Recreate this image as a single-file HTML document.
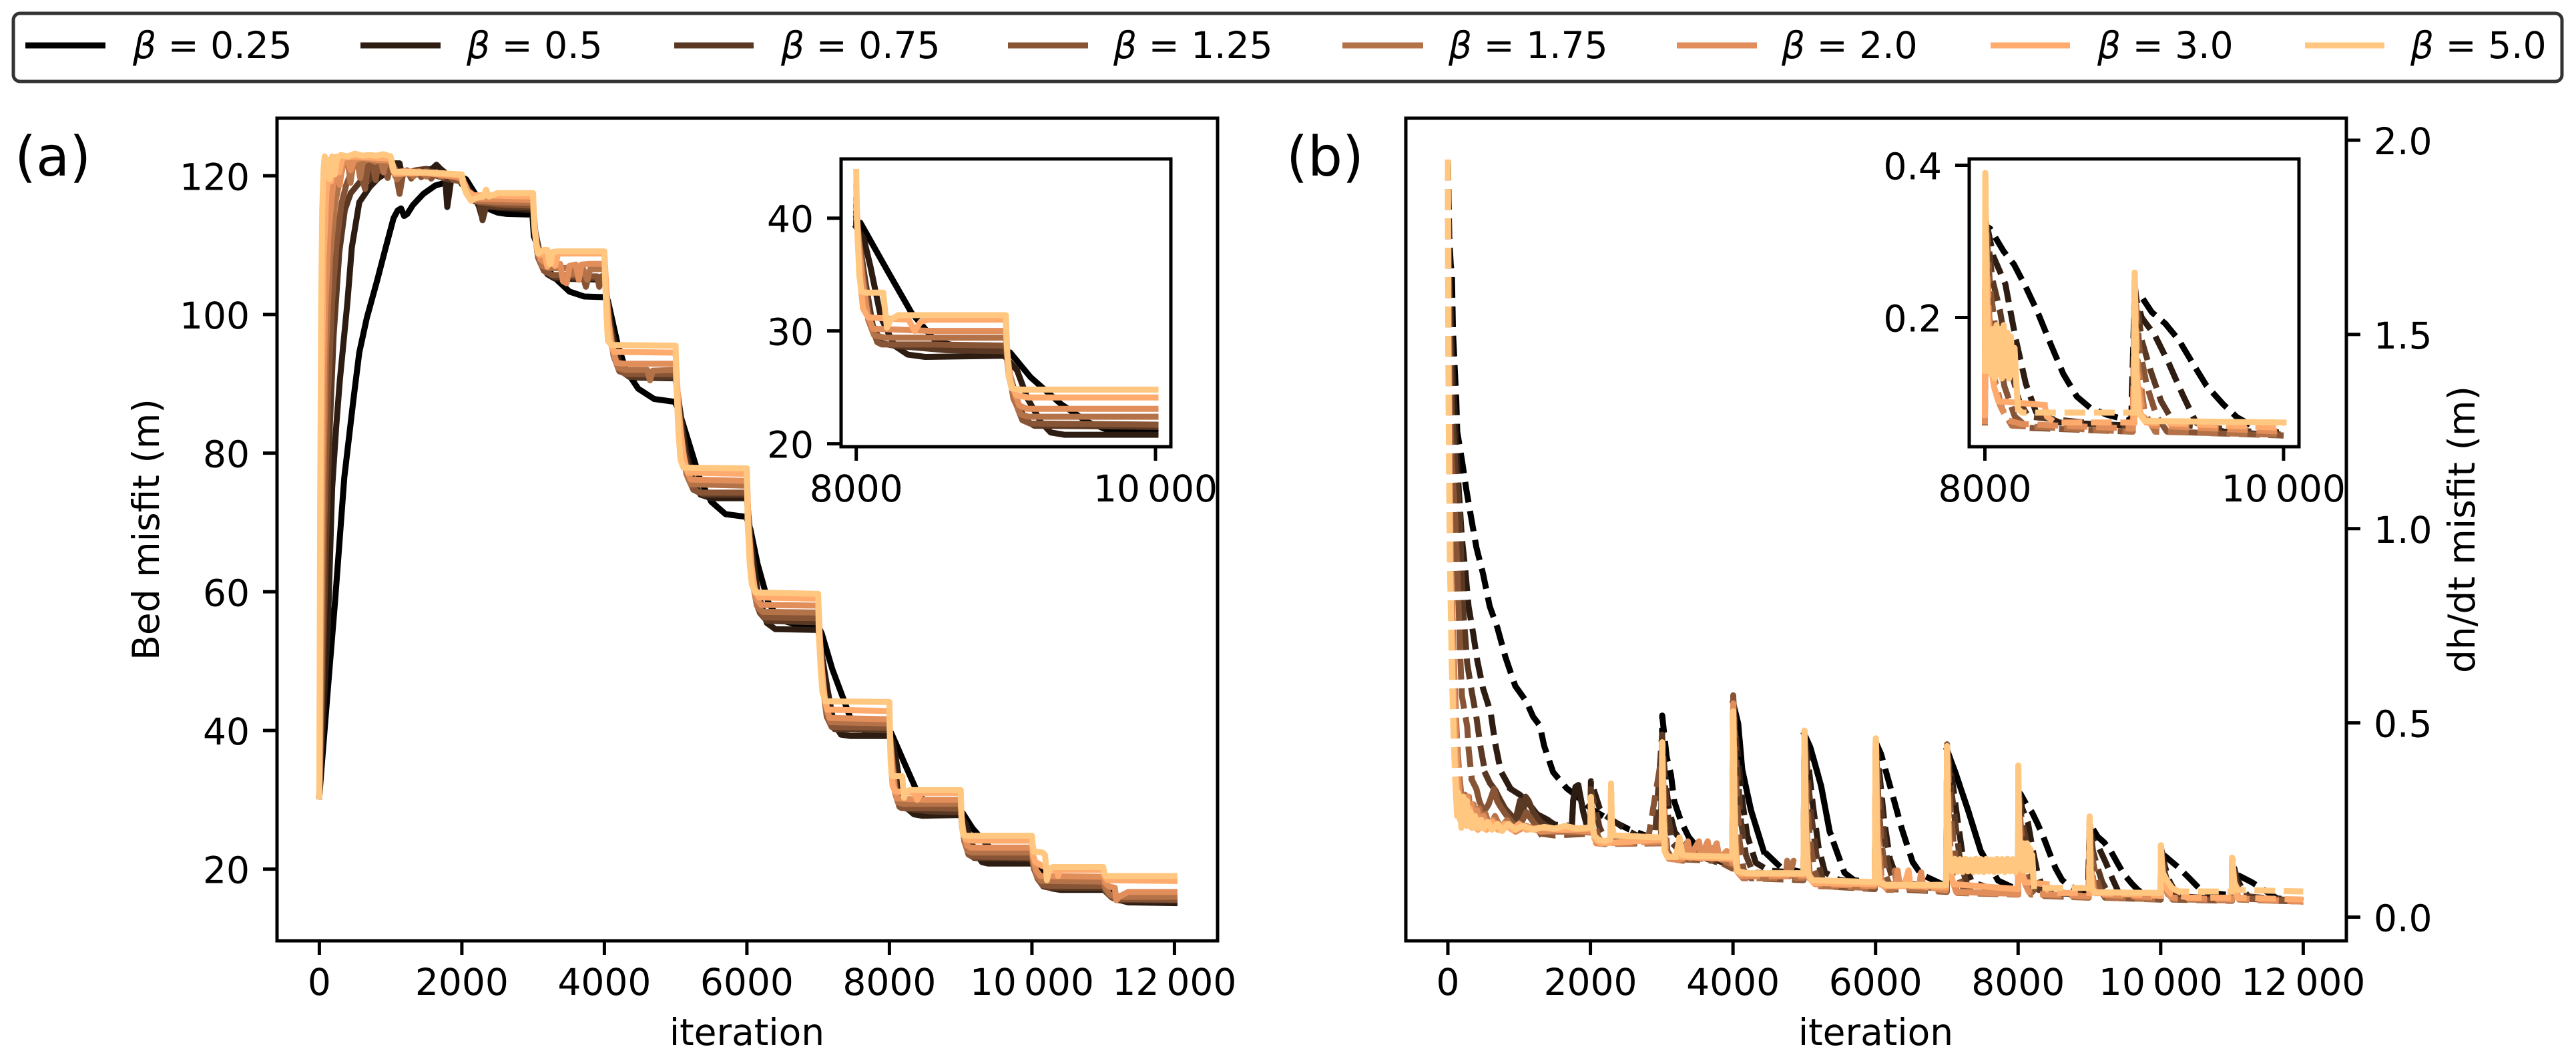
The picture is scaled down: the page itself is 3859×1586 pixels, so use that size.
<!DOCTYPE html>
<html lang="en">
<head>
<meta charset="utf-8">
<title>Bed misfit and dh/dt misfit vs iteration</title>
<style>
html,body{margin:0;padding:0;background:#fff;}
body{width:3859px;height:1586px;overflow:hidden;}
svg{display:block;}
text{font-family:"DejaVu Sans","Liberation Sans",sans-serif;fill:#000;font-size:55px;}
.panel-tag{font-size:82px;}
</style>
</head>
<body>
<svg id="fig" xmlns="http://www.w3.org/2000/svg" width="3859" height="1586" viewBox="0 0 3859 1586">
<rect x="0" y="0" width="3859" height="1586" fill="#fff"/>
<defs>
<clipPath id="clip-a"><rect x="415" y="177" width="1409" height="1232"/></clipPath>
<clipPath id="clip-b"><rect x="2106" y="177" width="1409" height="1232"/></clipPath>
<clipPath id="clip-ia"><rect x="1260" y="238" width="494" height="431"/></clipPath>
<clipPath id="clip-ib"><rect x="2950" y="238" width="494" height="431"/></clipPath>
</defs>
<g id="panels"></g>
<g>
<rect x="20" y="20" width="3818" height="102" rx="10" ry="10" fill="#fff" stroke="#333" stroke-width="5"/>
<g><line x1="38" x2="158" y1="68" y2="68" stroke="#000000" stroke-width="9"/><text x="199" y="87"><tspan font-style="italic">β</tspan> = 0.25</text></g>
<g><line x1="540" x2="660" y1="68" y2="68" stroke="#2d1c12" stroke-width="9"/><text x="699" y="87"><tspan font-style="italic">β</tspan> = 0.5</text></g>
<g><line x1="1010" x2="1129" y1="68" y2="68" stroke="#5a3924" stroke-width="9"/><text x="1170" y="87"><tspan font-style="italic">β</tspan> = 0.75</text></g>
<g><line x1="1510" x2="1630" y1="68" y2="68" stroke="#875536" stroke-width="9"/><text x="1668" y="87"><tspan font-style="italic">β</tspan> = 1.25</text></g>
<g><line x1="2011" x2="2132" y1="68" y2="68" stroke="#b47248" stroke-width="9"/><text x="2170" y="87"><tspan font-style="italic">β</tspan> = 1.75</text></g>
<g><line x1="2512" x2="2632" y1="68" y2="68" stroke="#e18e5b" stroke-width="9"/><text x="2669" y="87"><tspan font-style="italic">β</tspan> = 2.0</text></g>
<g><line x1="2982" x2="3101" y1="68" y2="68" stroke="#ffab6d" stroke-width="9"/><text x="3142" y="87"><tspan font-style="italic">β</tspan> = 3.0</text></g>
<g><line x1="3453" x2="3572" y1="68" y2="68" stroke="#ffc77f" stroke-width="9"/><text x="3611" y="87"><tspan font-style="italic">β</tspan> = 5.0</text></g>
</g>
<text class="panel-tag" x="22" y="263">(a)</text>
<text class="panel-tag" x="1927" y="263">(b)</text>
<text x="1119" y="1565" text-anchor="middle">iteration</text>
<text x="2810" y="1565" text-anchor="middle">iteration</text>
<text transform="translate(238 793) rotate(-90)" text-anchor="middle">Bed misfit (m)</text>
<text transform="translate(3707 793) rotate(-90)" text-anchor="middle">dh/dt misfit (m)</text>
</svg>
<script>
/* ---------- tick labels ---------- */
const xTicksMain = [0,2000,4000,6000,8000,10000,12000];
const xTickLabelsMain = ["0","2000","4000","6000","8000","10\u2009000","12\u2009000"];
const xTicksInset = [8000,10000];
const xTickLabelsInset = ["8000","10\u2009000"];
const bedTicks = [20,40,60,80,100,120];
const bedInsetTicks = [20,30,40];
const dhTicks = [0,0.5,1,1.5,2];
const dhTickLabels = ["0.0","0.5","1.0","1.5","2.0"];
const dhInsetTicks = [0.2,0.4];
const dhInsetTickLabels = ["0.2","0.4"];
const betas = ["0.25","0.5","0.75","1.25","1.75","2.0","3.0","5.0"];

/* ---------- panel (a): bed misfit, [iteration, metres] ---------- */
const bedB025 = [[0,30.5],[50,37],[120,46],[221,58.7],[350,76.5],[477,87.6],[560,94.5],[666,99.5],[811,104.9],[917,109.1],[1042,113.9],[1100,115],[1147,115.3],[1190,114.2],[1234,114.5],[1314,115.8],[1460,117.4],[1627,118.6],[1732,118.9],[1850,119.4],[2000,119.8],[2060,119.5],[2170,117.7],[2280,116],[2380,115.2],[2500,114.7],[2630,114.5],[2990,114.4],[3000,112.9],[3010,111.3],[3100,108.8],[3230,106.2],[3343,104.9],[3510,103.3],[3715,102.6],[4000,102.5],[4050,102],[4180,96],[4300,92],[4475,89.3],[4700,87.8],[4990,87.4],[5050,86],[5200,81],[5350,76],[5500,73],[5700,71.2],[5990,70.8],[6050,69],[6150,64],[6300,58.5],[6450,56],[6650,55.4],[6990,55.2],[7050,54],[7200,48.8],[7360,44.4],[7480,41],[7690,39.7],[8000,39.6],[8027,39.6],[8210,35.3],[8370,31.6],[8530,29.1],[8660,28.7],[8983,28.1],[9028,28.1],[9165,25.9],[9370,23.5],[9550,21.9],[9687,21.2],[10000,21.2],[10050,21],[10150,19.8],[10300,18.4],[10500,17.4],[10700,17.1],[11000,17],[11100,16.6],[11300,15.7],[11500,15.3],[12000,15.2]];
const bedB050 = [[0,30.5],[60,43],[120,55],[180,75],[238,84],[288,90.5],[393,101.7],[456,109.7],[561,116.2],[708,118.4],[830,119.7],[958,120.5],[1064,121.8],[1126,121.8],[1150,120.6],[1300,120.5],[1450,120.8],[1580,121],[1644,121.6],[1700,121],[1760,120.5],[1795,115.5],[1830,118],[1850,119.5],[1960,119.6],[2000,118.8],[2060,118.6],[2170,117],[2240,115.6],[2272,114.4],[2300,115.3],[2350,116],[2500,115.4],[3000,115],[3020,112],[3100,108],[3200,105.8],[3300,105.2],[4000,105],[4030,103],[4100,98],[4200,93.5],[4300,91.5],[4450,90.9],[5000,90.8],[5050,87],[5150,80],[5250,76],[5350,74],[5500,73.5],[6000,73.5],[6050,68],[6150,60],[6280,55.5],[6400,54.6],[7000,54.5],[7050,51],[7130,46],[7220,41],[7320,39.4],[7450,39.2],[8000,39.2],[8050,38.2],[8095,35.7],[8165,31.2],[8255,28.7],[8345,27.9],[8460,27.7],[8990,27.8],[9075,26.5],[9145,24],[9235,21.9],[9300,21],[9390,20.8],[10000,20.8],[10060,20],[10150,18.4],[10280,17.2],[10400,17],[11000,17],[11080,16.5],[11200,15.6],[11350,15.2],[12000,15.1]];
const bedB075 = [[0,30.5],[40,45],[90,65],[140,82],[200,97],[280,109],[358,115.1],[440,117.5],[560,119],[640,120],[700,119.4],[760,121.4],[820,120.6],[900,122],[960,121],[1020,122],[1060,120.5],[1100,119.5],[1200,120.3],[1350,120.8],[1500,121],[1650,120],[1800,119.5],[1950,119.3],[2000,119],[2050,118.8],[2150,116.5],[2250,116],[2290,113.6],[2340,115.6],[2500,115.5],[3000,115.4],[3030,112],[3100,108.5],[3180,106.3],[3300,105.4],[4000,105.2],[4030,103],[4080,98.5],[4150,94],[4240,91.8],[4350,91],[5000,91],[5040,87],[5120,80.5],[5200,76.5],[5290,74.5],[5400,74],[6000,74],[6040,68],[6100,61],[6180,57],[6280,55.8],[7000,55.6],[7030,51],[7080,46],[7140,42],[7230,40.2],[8000,40],[8020,38],[8060,34.5],[8110,30.5],[8170,28.9],[8250,28.7],[8600,28.3],[9000,28.2],[9030,26],[9075,23.8],[9130,22.1],[9190,21.6],[10000,21.5],[10030,20],[10090,18.5],[10160,17.5],[10250,17.3],[11000,17.3],[11040,16.7],[11120,15.9],[11220,15.5],[12000,15.5]];
const bedB125 = [[0,30.5],[30,45],[70,70],[120,88],[180,102],[240,110],[310,116],[380,118.8],[440,120.3],[480,121.8],[520,122],[580,120.5],[641,118.1],[680,121.5],[740,122],[790,119.4],[830,122],[900,122.2],[958,119.7],[1000,122],[1040,121.5],[1080,120],[1126,117.4],[1170,120],[1230,120.8],[1290,119.6],[1350,120.8],[1430,119.8],[1500,120.7],[1570,119.6],[1650,120.5],[1730,119.7],[1800,120.2],[1880,119.4],[2000,119.2],[2050,118.5],[2120,116.8],[2250,116.2],[2500,115.9],[3000,115.7],[3020,112],[3070,108.2],[3150,106.3],[3260,105.7],[3700,105.6],[3740,104],[3780,105.5],[3900,105.5],[3928,104],[3960,105.5],[4000,105.6],[4025,103],[4070,98],[4130,94],[4210,91.8],[4320,91.4],[5000,91.4],[5035,87],[5100,80.5],[5170,76.5],[5250,74.7],[5350,74.3],[6000,74.3],[6035,68],[6090,61],[6160,57.5],[6250,56.3],[7000,56.2],[7030,51],[7070,46],[7120,42],[7190,40.5],[8000,40.4],[8020,38],[8050,34.5],[8090,31],[8140,29],[8170,28.8],[8500,28.8],[9000,28.7],[9020,26],[9060,23.8],[9110,22.1],[9160,21.8],[10000,21.7],[10025,20.3],[10080,18.6],[10150,17.7],[10230,17.6],[11000,17.6],[11040,16.9],[11110,16],[11200,15.7],[12000,15.6]];
const bedB175 = [[0,30.5],[25,50],[55,75],[95,95],[150,108],[220,116],[290,119.5],[340,121.8],[400,122.2],[437,119],[480,122],[530,122.3],[573,119.7],[610,122],[700,122.4],[780,122],[860,122.3],[900,120.5],[940,122.3],[1000,122],[1040,120.5],[1090,119.5],[1150,120.2],[1250,120.6],[1320,119.9],[1400,120.7],[1500,119.9],[1600,120.5],[1700,119.9],[1800,120.2],[2000,119.5],[2040,118.8],[2100,117.2],[2200,116.4],[2500,116.2],[3000,116.1],[3020,112.5],[3060,109],[3130,107],[3220,106.7],[3500,106.7],[3550,105.8],[3600,106.6],[3700,106.6],[3760,105],[3800,106.5],[4000,106.6],[4025,104],[4060,99],[4120,95],[4190,92.3],[4290,92],[4600,92],[4640,90.5],[4680,91.9],[5000,92],[5030,88],[5090,81],[5150,77],[5220,75.5],[6000,75.3],[6030,68],[6080,61.5],[6140,58],[6220,57.1],[7000,57],[7025,52],[7065,47],[7110,43],[7170,41.2],[8000,41],[8015,38],[8045,34.5],[8080,31],[8120,29.6],[8200,29.4],[9000,29.4],[9020,26.5],[9050,24],[9100,22.6],[9150,22.4],[10000,22.4],[10020,20.8],[10070,19],[10130,18.3],[11000,18.2],[11030,17.3],[11090,16.4],[11170,16],[12000,16]];
const bedB200 = [[0,30.5],[20,55],[45,80],[80,100],[130,112],[190,118.5],[240,121.5],[287,118.7],[330,122],[390,122.3],[440,120.8],[490,122.3],[600,122.6],[800,122.3],[1000,122.2],[1030,121],[1070,120.5],[1200,120.7],[1500,120.4],[2000,119.7],[2030,119],[2090,117.6],[2180,116.7],[3000,116.5],[3015,113],[3050,109.6],[3100,108],[3180,107.4],[3380,107.3],[3420,104.8],[3470,104.5],[3510,107],[3600,107.2],[3640,105],[3680,107.2],[3800,107.3],[4000,107.3],[4020,105],[4050,100],[4100,95.5],[4170,93],[4300,92.9],[5000,92.9],[5025,88],[5080,82],[5140,78],[5210,76.2],[6000,76],[6025,69],[6070,62.5],[6130,59],[6200,58.1],[7000,58],[7025,53],[7060,48],[7100,44],[7160,41.8],[8000,41.6],[8015,38],[8040,34.5],[8075,31.5],[8110,30.2],[8500,30],[9000,30],[9015,27],[9045,25],[9090,23.4],[9140,23.1],[10000,23.1],[10020,21.5],[10060,19.8],[10120,19],[11000,18.9],[11030,18],[11080,17.5],[11163,17.3],[11185,15.5],[11220,16],[11350,16.7],[12000,16.7]];
const bedB300 = [[0,30.5],[15,60],[35,90],[60,108],[100,118],[135,121.5],[165,119.2],[200,122.5],[240,122.7],[280,120.5],[320,122.6],[500,122.8],[800,122.6],[1000,122.5],[1030,121],[1060,120.3],[1500,120.4],[2000,120],[2030,119],[2080,117.8],[2170,117.2],[3000,117],[3015,113],[3050,110],[3095,108.6],[3160,108.9],[3200,106.9],[3235,108.8],[3310,107],[3350,108.8],[4000,108.8],[4020,105],[4045,100],[4080,96],[4140,94.6],[5000,94.5],[5020,90],[5060,84],[5110,79.5],[5170,77.2],[6000,77],[6020,70],[6060,64],[6110,60.5],[6170,59.2],[7000,59],[7020,54],[7050,49],[7085,45],[7130,43],[8000,42.8],[8010,38],[8030,34],[8045,32],[8080,31.2],[8350,31],[8390,30],[8430,30.8],[8480,31],[9000,31],[9010,28],[9030,25.5],[9070,24.3],[9150,24.1],[10000,24.1],[10015,22],[10050,21],[10090,20.8],[10135,20.5],[10300,19.9],[10350,19.9],[10367,19],[10395,19.9],[11000,19.9],[11020,19],[11060,18.4],[12000,18.3]];
const bedB500 = [[0,30.5],[10,70],[25,100],[40,115],[60,121],[75,122.8],[90,122],[120,122.3],[145,119.5],[180,122.8],[215,120.2],[250,122.6],[300,123],[400,122.8],[500,123.2],[600,122.9],[700,123],[800,122.9],[900,123.1],[1000,122.8],[1030,121.5],[1050,120.6],[1500,120.5],[2000,120.2],[2010,119],[2060,117.5],[2130,116.4],[2200,116.8],[2300,117],[2340,118],[2380,117],[2500,117.5],[3000,117.5],[3010,114],[3040,110.5],[3070,108.8],[3150,109.3],[3200,109.3],[3230,107.3],[3250,107.3],[3270,109],[3350,109.1],[4000,109.1],[4010,105],[4030,100],[4050,96.2],[4100,95.6],[5000,95.5],[5010,90],[5040,83],[5070,79],[5110,77.9],[6000,77.8],[6010,70],[6040,64],[6070,61],[6120,59.9],[7000,59.7],[7010,54],[7035,49],[7060,45.5],[7100,44.2],[8000,44.1],[8005,40],[8020,35],[8035,33.5],[8060,33.4],[8180,33.4],[8205,30.3],[8230,31],[8280,31.4],[9000,31.4],[9005,29],[9020,26],[9040,24.9],[9100,24.8],[10000,24.8],[10010,23.5],[10030,22.5],[10150,22.4],[10185,22],[10210,18.4],[10240,19.8],[10290,20.3],[11000,20.3],[11015,19.4],[11040,19],[12000,19]];

/* ---------- panel (b): dh/dt misfit, [iteration, metres] ---------- */
const dhB025 = [[0,1.95],[20,1.75],[40,1.68],[56,1.655],[72,1.505],[119,1.326],[131,1.25],[197,1.177],[259,1.1],[328,1.027],[400,.952],[494,.883],[587,.8],[695,.745],[806,.67],[946,.595],[1100,.555],[1196,.516],[1290,.493],[1350,.441],[1477,.373],[1665,.332],[1820,.31],[2000,.28],[2195,.258],[2540,.226],[2945,.198],[3000,.197],[3007,.519],[3069,.413],[3130,.367],[3176,.298],[3270,.247],[3380,.206],[3500,.18],[3700,.15],[3990,.13],[4003,.55],[4073,.498],[4130,.379],[4253,.275],[4430,.17],[4670,.128],[4990,.115],[5003,.47],[5087,.436],[5236,.338],[5358,.219],[5565,.114],[5700,.095],[5990,.088],[6003,.45],[6075,.421],[6224,.324],[6371,.226],[6520,.142],[6640,.11],[6990,.08],[7003,.43],[7120,.372],[7298,.275],[7476,.17],[7719,.094],[8000,.07],[8003,.32],[8034,.317],[8125,.287],[8194,.27],[8274,.24],[8353,.207],[8445,.163],[8525,.126],[8616,.096],[8707,.081],[8821,.072],[8980,.064],[9003,.234],[9026,.234],[9117,.207],[9208,.192],[9300,.17],[9391,.14],[9482,.111],[9596,.086],[9687,.069],[9779,.059],[9961,.049],[10000,.048],[10003,.165],[10068,.156],[10248,.128],[10402,.1],[10582,.066],[10800,.06],[11000,.056],[11003,.12],[11095,.107],[11275,.09],[11457,.069],[11635,.048],[12000,.042]];
const dhB050 = [[0,1.95],[25,1.65],[70,1.4],[120,1.2],[160,1.08],[197,.975],[244,.894],[290,.8],[358,.727],[413,.66],[494,.588],[600,.527],[665,.446],[742,.376],[881,.33],[1009,.315],[1100,.3],[1250,.265],[1383,.252],[1500,.238],[1740,.235],[1758,.3],[1790,.335],[1830,.34],[1860,.31],[1900,.27],[1950,.235],[2000,.235],[2007,.35],[2060,.32],[2130,.28],[2195,.264],[2300,.25],[2380,.241],[2500,.225],[2700,.205],[2990,.198],[3005,.45],[3060,.34],[3100,.28],[3180,.22],[3300,.19],[3500,.168],[3990,.13],[4005,.53],[4070,.42],[4130,.3],[4200,.21],[4320,.14],[4500,.12],[4990,.113],[5005,.47],[5060,.39],[5120,.29],[5200,.18],[5290,.115],[5500,.095],[5990,.088],[6005,.45],[6060,.36],[6120,.25],[6200,.15],[6300,.1],[6500,.085],[7000,.078],[7005,.43],[7070,.36],[7150,.25],[7230,.15],[7350,.09],[7600,.075],[8000,.07],[8005,.33],[8057,.28],[8137,.244],[8205,.173],[8274,.113],[8342,.076],[8500,.062],[8990,.058],[9005,.23],[9050,.2],[9140,.176],[9231,.14],[9323,.099],[9414,.062],[9600,.05],[10000,.045],[10005,.18],[10060,.13],[10130,.09],[10220,.06],[10400,.052],[11000,.045],[11005,.145],[11070,.1],[11150,.07],[11250,.05],[11500,.043],[12000,.04]];
const dhB075 = [[0,1.95],[20,1.6],[60,1.3],[110,1.15],[166,1.03],[212,.8],[244,.72],[272,.653],[337,.578],[400,.515],[462,.434],[525,.37],[590,.345],[665,.327],[740,.3],[800,.28],[852,.269],[950,.25],[1012,.3],[1040,.25],[1090,.31],[1130,.3],[1200,.27],[1300,.245],[1380,.235],[1500,.225],[1700,.23],[2000,.225],[2005,.33],[2070,.28],[2130,.23],[2200,.205],[2500,.2],[2900,.195],[3005,.47],[3050,.33],[3090,.26],[3150,.19],[3280,.165],[3500,.158],[3990,.128],[4005,.56],[4055,.4],[4110,.25],[4180,.16],[4280,.115],[4990,.105],[5005,.47],[5050,.36],[5100,.26],[5170,.16],[5260,.095],[5990,.08],[6005,.45],[6050,.34],[6100,.24],[6170,.14],[6260,.085],[7000,.072],[7005,.44],[7055,.34],[7120,.24],[7190,.14],[7290,.08],[8000,.065],[8005,.33],[8050,.25],[8100,.21],[8160,.14],[8230,.09],[8290,.07],[8990,.055],[9005,.24],[9050,.17],[9110,.13],[9180,.09],[9270,.06],[10000,.046],[10005,.18],[10050,.12],[10110,.08],[10200,.05],[11000,.043],[11005,.15],[11060,.09],[11130,.055],[12000,.04]];
const dhB125 = [[0,1.95],[15,1.55],[40,1.25],[70,1.12],[103,1.03],[150,.8],[178,.653],[197,.57],[272,.49],[290,.434],[337,.353],[400,.33],[440,.3],[500,.27],[570,.29],[648,.33],[690,.3],[728,.287],[790,.27],[852,.255],[920,.24],[1010,.235],[1100,.27],[1180,.25],[1250,.23],[1300,.215],[1500,.21],[2000,.215],[2005,.3],[2050,.25],[2110,.205],[2200,.19],[2800,.19],[3005,.42],[3040,.26],[3080,.17],[3150,.15],[3700,.145],[3740,.17],[3780,.145],[3990,.125],[4003,.571],[4045,.35],[4090,.2],[4150,.12],[4250,.1],[4990,.095],[5003,.47],[5040,.3],[5080,.2],[5140,.12],[5230,.08],[5990,.072],[6003,.45],[6040,.3],[6080,.2],[6140,.11],[6220,.072],[7000,.065],[7003,.445],[7045,.3],[7090,.2],[7150,.11],[7240,.07],[8000,.06],[8003,.34],[8035,.24],[8080,.17],[8130,.11],[8200,.07],[8290,.055],[8990,.05],[9003,.24],[9035,.16],[9085,.11],[9150,.07],[9220,.05],[10000,.045],[10003,.18],[10040,.11],[10095,.07],[10170,.045],[11000,.042],[11003,.15],[11045,.08],[11110,.048],[12000,.04]];
const dhB175 = [[0,1.95],[10,1.5],[26,1.15],[46,.9],[70,.74],[92,.62],[118,.5],[140,.42],[165,.36],[185,.32],[215,.28],[240,.315],[265,.27],[295,.31],[325,.25],[360,.29],[400,.24],[440,.28],[480,.235],[530,.265],[590,.23],[660,.26],[740,.23],[830,.25],[950,.22],[1100,.235],[1300,.22],[1600,.22],[2000,.218],[2007,.29],[2035,.23],[2090,.19],[2200,.188],[3000,.19],[3007,.44],[3035,.25],[3070,.16],[3120,.15],[3300,.145],[3367,.19],[3400,.15],[3522,.185],[3560,.15],[3772,.185],[3810,.15],[3990,.135],[4003,.55],[4035,.23],[4070,.115],[4140,.1],[4740,.1],[4760,.145],[4790,.105],[4850,.145],[4880,.1],[4990,.1],[5003,.48],[5035,.22],[5080,.1],[5170,.08],[5990,.075],[6003,.46],[6035,.22],[6090,.09],[6170,.07],[6240,.07],[6270,.12],[6300,.075],[6990,.067],[7003,.44],[7035,.22],[7085,.1],[7150,.062],[8000,.058],[8003,.33],[8030,.2],[8065,.12],[8115,.08],[8180,.058],[8990,.05],[9003,.245],[9025,.14],[9070,.075],[9140,.05],[10000,.046],[10003,.18],[10035,.11],[10095,.06],[10180,.046],[11000,.043],[11003,.15],[11040,.08],[11100,.045],[12000,.04]];
const dhB200 = [[0,1.95],[8,1.5],[22,1.15],[40,.9],[62,.74],[82,.62],[105,.5],[125,.42],[145,.36],[160,.31],[190,.27],[220,.31],[250,.26],[280,.31],[310,.25],[340,.29],[370,.24],[410,.275],[450,.235],[500,.26],[560,.23],[630,.25],[720,.225],[820,.24],[950,.22],[1100,.235],[1300,.22],[1600,.225],[2000,.22],[2007,.3],[2030,.23],[2080,.19],[2200,.19],[3000,.195],[3007,.45],[3030,.25],[3060,.165],[3100,.15],[3250,.148],[3290,.15],[3367,.195],[3400,.158],[3522,.195],[3560,.155],[3645,.195],[3690,.155],[3772,.19],[3810,.15],[3912,.17],[3990,.14],[4003,.55],[4030,.22],[4060,.115],[4120,.105],[4990,.105],[5003,.48],[5030,.2],[5070,.1],[5150,.085],[5990,.08],[6003,.46],[6030,.2],[6080,.085],[6150,.075],[6285,.08],[6310,.12],[6340,.08],[6612,.08],[6640,.115],[6670,.078],[6990,.07],[7003,.44],[7030,.2],[7070,.1],[7130,.065],[8000,.06],[8003,.33],[8025,.2],[8055,.12],[8100,.085],[8150,.065],[8250,.06],[8990,.054],[9003,.25],[9020,.13],[9060,.07],[9120,.058],[10000,.05],[10003,.18],[10030,.11],[10080,.065],[10160,.05],[11000,.045],[11003,.15],[11035,.08],[11090,.048],[12000,.04]];
const dhB300 = [[0,1.95],[6,1.5],[18,1.15],[32,.9],[50,.74],[65,.62],[85,.48],[105,.4],[125,.33],[150,.29],[175,.25],[200,.3],[225,.24],[250,.29],[275,.235],[310,.28],[340,.23],[380,.26],[420,.225],[480,.25],[540,.225],[620,.245],[700,.225],[800,.24],[900,.225],[1000,.24],[1100,.225],[1300,.23],[1600,.225],[2000,.228],[2007,.3],[2025,.24],[2060,.2],[2150,.19],[3000,.2],[3007,.45],[3025,.25],[3045,.17],[3090,.155],[3240,.155],[3990,.15],[4003,.52],[4025,.22],[4050,.12],[4100,.112],[4990,.11],[5003,.48],[5025,.2],[5060,.105],[5130,.088],[5990,.085],[6003,.46],[6025,.2],[6060,.085],[6140,.08],[6400,.08],[6463,.12],[6490,.08],[6990,.078],[7003,.44],[7025,.2],[7050,.12],[7090,.085],[8000,.072],[8003,.34],[8020,.2],[8040,.14],[8060,.11],[8090,.09],[8400,.085],[8415,.07],[8470,.062],[9000,.062],[9003,.25],[9015,.13],[9040,.075],[9080,.062],[10000,.055],[10003,.18],[10025,.11],[10060,.08],[10100,.07],[10150,.06],[10250,.055],[10400,.05],[11000,.05],[11003,.15],[11030,.08],[11080,.05],[12000,.045]];
const dhB500 = [[0,1.95],[5,1.5],[15,1.2],[28,.92],[45,.75],[56,.64],[75,.5],[90,.42],[103,.353],[115,.31],[130,.26],[145,.32],[170,.29],[190,.23],[215,.31],[240,.24],[265,.3],[290,.235],[320,.27],[350,.23],[380,.26],[420,.23],[460,.25],[500,.228],[560,.245],[620,.225],[700,.24],[760,.222],[850,.24],[950,.225],[1050,.235],[1200,.225],[1350,.232],[1500,.228],[1650,.235],[1800,.228],[1950,.23],[2000,.232],[2007,.31],[2025,.25],[2050,.21],[2110,.2],[2200,.195],[2280,.2],[2290,.344],[2300,.24],[2330,.21],[3000,.205],[3007,.45],[3020,.28],[3040,.17],[3080,.155],[3200,.155],[3250,.205],[3290,.16],[3400,.158],[3990,.155],[4003,.53],[4020,.3],[4040,.14],[4070,.118],[4200,.113],[4990,.113],[5003,.48],[5020,.25],[5050,.115],[5100,.095],[5990,.09],[6003,.46],[6020,.2],[6050,.09],[6150,.083],[6990,.083],[7003,.44],[7020,.2],[7040,.15],[7075,.118],[7110,.15],[7147,.117],[7184,.149],[7221,.116],[7258,.15],[7295,.118],[7332,.148],[7369,.116],[7406,.15],[7443,.117],[7480,.149],[7517,.116],[7554,.15],[7591,.118],[7628,.148],[7665,.116],[7702,.15],[7739,.118],[7776,.149],[7813,.116],[7850,.15],[7887,.118],[7924,.149],[7961,.116],[8000,.13],[8003,.39],[8010,.25],[8018,.13],[8030,.18],[8042,.125],[8054,.185],[8066,.12],[8078,.19],[8090,.125],[8102,.185],[8114,.12],[8126,.19],[8138,.125],[8150,.18],[8162,.12],[8174,.175],[8186,.125],[8198,.16],[8210,.115],[8222,.08],[8250,.075],[9000,.075],[9003,.259],[9012,.13],[9030,.075],[9070,.064],[10000,.062],[10003,.185],[10015,.12],[10040,.11],[10100,.09],[10160,.075],[10250,.066],[11000,.066],[11003,.153],[11030,.09],[11080,.07],[12000,.066]];

/* iteration ranges where high-frequency oscillation makes a dashed curve read as solid */
const dhSolidB025 = [[4003,4430],[5003,5360],[7003,7500]];
const dhSolidB050 = [[881,1383],[1740,1960]];
const dhSolidB075 = [[530,1400]];
const dhSolidB125 = [[340,1300]];
const dhSolidB175 = [[180,2000],[3100,4000]];
const dhSolidB200 = [[160,2000],[3060,4000],[6285,6700],[7100,8000]];
const dhSolidB300 = [[125,8400],[9000,9100],[10000,10100]];
const dhSolidB500 = [[115,8222],[9000,10250],[11000,11040]];

const bedSeries = [bedB025,bedB050,bedB075,bedB125,bedB175,bedB200,bedB300,bedB500];
const dhSeries = [dhB025,dhB050,dhB075,dhB125,dhB175,dhB200,dhB300,dhB500];
const dhSolid = [dhSolidB025,dhSolidB050,dhSolidB075,dhSolidB125,dhSolidB175,dhSolidB200,dhSolidB300,dhSolidB500];
const palette = ["#000000","#2d1c12","#5a3924","#875536","#b47248","#e18e5b","#ffab6d","#ffc77f"];

const NS = "http://www.w3.org/2000/svg";
const root = document.getElementById("panels");

function linear(d0,d1,r0,r1){ return function(v){ return r0+(v-d0)*(r1-r0)/(d1-d0); }; }

function sliceRange(pts,a,b){
  const out=[];
  for(let i=0;i<pts.length;i++){
    const p=pts[i], q=pts[i+1];
    if(p[0]>=a && p[0]<=b) out.push(p);
    if(q){
      if(p[0]<a && q[0]>a) out.push([a,p[1]+(q[1]-p[1])*(a-p[0])/(q[0]-p[0])]);
      if(p[0]<b && q[0]>b) out.push([b,p[1]+(q[1]-p[1])*(b-p[0])/(q[0]-p[0])]);
    }
  }
  return out;
}
function pathOf(pts,sx,sy){
  return pts.map(function(p,i){ return (i?"L":"M")+sx(p[0]).toFixed(1)+" "+sy(p[1]).toFixed(1); }).join("");
}
function drawLine(parent,pts,sx,sy,color,dashed,label){
  const el=document.createElementNS(NS,"path");
  el.setAttribute("d",pathOf(pts,sx,sy));
  el.setAttribute("fill","none");
  el.setAttribute("stroke",color);
  el.setAttribute("stroke-width","9");
  el.setAttribute("stroke-linejoin","round");
  el.setAttribute("stroke-linecap",dashed?"butt":"square");
  if(dashed) el.setAttribute("stroke-dasharray","31 13");
  
  
  parent.appendChild(el);
}
function seg(parent,x1,y1,x2,y2,label){
  const el=document.createElementNS(NS,"line");
  el.setAttribute("x1",x1); el.setAttribute("y1",y1);
  el.setAttribute("x2",x2); el.setAttribute("y2",y2);
  el.setAttribute("stroke","#000");
  el.setAttribute("stroke-width","5");
  el.setAttribute("stroke-linecap","square");
  
  
  parent.appendChild(el);
}
function tickLine(parent,x1,y1,x2,y2,label){
  const el=document.createElementNS(NS,"line");
  el.setAttribute("x1",x1); el.setAttribute("y1",y1);
  el.setAttribute("x2",x2); el.setAttribute("y2",y2);
  el.setAttribute("stroke","#000");
  el.setAttribute("stroke-width","5");
  
  
  parent.appendChild(el);
}
function label(parent,x,y,str,anchor,name){
  const el=document.createElementNS(NS,"text");
  el.setAttribute("x",x); el.setAttribute("y",y);
  el.setAttribute("text-anchor",anchor);
  el.textContent=str;
  
  
  parent.appendChild(el);
}
function drawAxes(cfg){
  const g=document.createElementNS(NS,"g");
  
  
  root.appendChild(g);
  const bg=document.createElementNS(NS,"rect");
  bg.setAttribute("x",cfg.left); bg.setAttribute("y",cfg.top);
  bg.setAttribute("width",cfg.right-cfg.left); bg.setAttribute("height",cfg.bottom-cfg.top);
  bg.setAttribute("fill","#fff");
  
  
  g.appendChild(bg);
  const lines=document.createElementNS(NS,"g");
  lines.setAttribute("clip-path","url(#"+cfg.clip+")");
  
  
  g.appendChild(lines);
  cfg.series.forEach(function(s,i){
    const pts=cfg.range?sliceRange(s,cfg.range[0],cfg.range[1]):s;
    drawLine(lines,pts,cfg.sx,cfg.sy,palette[i],cfg.dashed,"series-beta-"+betas[i]);
    if(cfg.solid){
      cfg.solid[i].forEach(function(r){
        const a=cfg.range?Math.max(r[0],cfg.range[0]):r[0];
        const b=cfg.range?Math.min(r[1],cfg.range[1]):r[1];
        if(b>a) drawLine(lines,sliceRange(s,a,b),cfg.sx,cfg.sy,palette[i],false,"series-beta-"+betas[i]+"-oscillating");
      });
    }
  });
  seg(g,cfg.left,cfg.top,cfg.right,cfg.top,"top-spine");
  seg(g,cfg.left,cfg.bottom,cfg.right,cfg.bottom,"bottom-spine");
  seg(g,cfg.left,cfg.top,cfg.left,cfg.bottom,"left-spine");
  seg(g,cfg.right,cfg.top,cfg.right,cfg.bottom,"right-spine");
  cfg.xTicks.forEach(function(t,i){
    const x=cfg.sx(t);
    tickLine(g,x,cfg.bottom,x,cfg.bottom+21,"x-tick");
    label(g,x,cfg.bottom+cfg.xLabelOffset,cfg.xLabels[i],"middle","x-tick-label");
  });
  cfg.yTicks.forEach(function(t,i){
    const y=cfg.sy(t);
    if(cfg.yRight){
      tickLine(g,cfg.right,y,cfg.right+21,y,"y-tick");
      label(g,cfg.right+41,y+21,cfg.yLabels[i],"start","y-tick-label");
    }else{
      tickLine(g,cfg.left,y,cfg.left-21,y,"y-tick");
      label(g,cfg.left-41,y+21,cfg.yLabels[i],"end","y-tick-label");
    }
  });
}

const xA = linear(0,12000,478.4,1759.4);
const yA = linear(120,20,263.3,1301.6);
const xB = linear(0,12000,2169,3450.4);
const yB = linear(0,2,1373.5,210);
const xIA = linear(8000,10000,1282.7,1731);
const yIA = linear(20,40,664.6,326.7);
const xIB = linear(8000,10000,2973.5,3420.9);
const yIB = linear(0.2,0.4,475.5,247.5);

drawAxes({name:"bed-misfit-axes",left:415,right:1824,top:177,bottom:1409,clip:"clip-a",sx:xA,sy:yA,series:bedSeries,dashed:false,xTicks:xTicksMain,xLabels:xTickLabelsMain,xLabelOffset:81,yTicks:bedTicks,yLabels:bedTicks.map(String)});
drawAxes({name:"bed-misfit-inset",left:1260,right:1754,top:238,bottom:669,clip:"clip-ia",sx:xIA,sy:yIA,series:bedSeries,range:[8000,10000],dashed:false,xTicks:xTicksInset,xLabels:xTickLabelsInset,xLabelOffset:82,yTicks:bedInsetTicks,yLabels:bedInsetTicks.map(String)});
drawAxes({name:"dhdt-misfit-axes",left:2106,right:3515,top:177,bottom:1409,clip:"clip-b",sx:xB,sy:yB,series:dhSeries,solid:dhSolid,dashed:true,xTicks:xTicksMain,xLabels:xTickLabelsMain,xLabelOffset:81,yTicks:dhTicks,yLabels:dhTickLabels,yRight:true});
drawAxes({name:"dhdt-misfit-inset",left:2950,right:3444,top:238,bottom:669,clip:"clip-ib",sx:xIB,sy:yIB,series:dhSeries,solid:dhSolid,range:[8000,10000],dashed:true,xTicks:xTicksInset,xLabels:xTickLabelsInset,xLabelOffset:82,yTicks:dhInsetTicks,yLabels:dhInsetTickLabels});
</script>
</body>
</html>
